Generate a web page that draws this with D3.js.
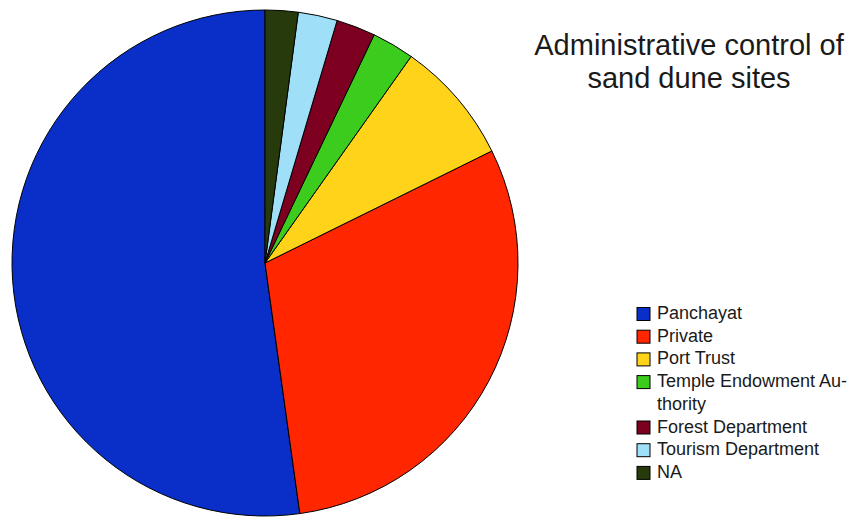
<!DOCTYPE html>
<html>
<head>
<meta charset="utf-8">
<script src="https://cdn.jsdelivr.net/npm/d3@7"></script>
<style>
  html, body { margin: 0; padding: 0; background: #fff; }
  svg { display: block; }
  text { font-family: "Liberation Sans", Arial, sans-serif; fill: #1a1a1a; }
</style>
</head>
<body>
<svg id="chart" width="851" height="518"></svg>
<script>
const categories = ["Panchayat", "Private", "Port Trust", "Temple Endowment Authority", "Forest Department", "Tourism Department", "NA"];
const values = [52.2, 30.1, 7.9, 2.7, 2.5, 2.5, 2.1];
const colors = ["#0a2fc8", "#ff2600", "#ffd31a", "#3ccc1e", "#7e0021", "#9fdff7", "#263a0c"];
const legendLines = [["Panchayat"], ["Private"], ["Port Trust"], ["Temple Endowment Au-", "thority"], ["Forest Department"], ["Tourism Department"], ["NA"]];
const titleLines = ["Administrative control of", "sand dune sites"];

const svg = d3.select("#chart");
const cx = 265, cy = 263, r = 253;

// counter-clockwise from 12 o'clock
const pie = d3.pie().sort(null).value(d => d)
  .startAngle(2 * Math.PI).endAngle(0);
const arcs = pie(values);
const arc = d3.arc().innerRadius(0).outerRadius(r);

svg.append("g").attr("transform", `translate(${cx},${cy})`)
  .selectAll("path").data(arcs).join("path")
  .attr("d", arc)
  .attr("fill", (d, i) => colors[i])
  .attr("stroke", "#000")
  .attr("stroke-width", 1);

// title
const title = svg.append("text")
  .attr("x", 689).attr("y", 55)
  .attr("text-anchor", "middle")
  .style("font-size", "29px");
titleLines.forEach((t, i) => {
  title.append("tspan").attr("x", 689).attr("dy", i === 0 ? 0 : 33).text(t);
});

// legend
const lx = 637, ly0 = 307.5, step = 22.7;
let row = 0;
const lg = svg.append("g");
legendLines.forEach((lines, i) => {
  const y = ly0 + row * step;
  lg.append("rect").attr("x", lx).attr("y", y).attr("width", 13).attr("height", 13)
    .attr("fill", colors[i]).attr("stroke", "#000").attr("stroke-width", 1);
  lines.forEach((t, j) => {
    lg.append("text").attr("x", 657).attr("y", y + 11.5 + j * step)
      .style("font-size", "18px").text(t);
  });
  row += lines.length;
});
</script>
</body>
</html>
